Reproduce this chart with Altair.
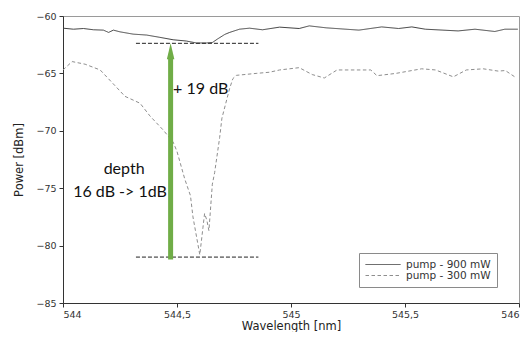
import altair as alt
import pandas as pd

# ---- data ----
series_names = ["pump - 900 mW", "pump - 300 mW"]

solid_nm = [544.0, 544.046, 544.09, 544.134, 544.177, 544.2, 544.221, 544.25, 544.308,
            544.367, 544.425, 544.483, 544.541, 544.585, 544.629, 544.656, 544.678, 544.71,
            544.731, 544.774, 544.818, 544.875, 544.95, 545.036, 545.08, 545.154, 545.298,
            545.398, 545.472, 545.53, 545.589, 545.733, 545.807, 545.894, 545.938, 545.995]
solid_db = [-61.06, -61.15, -61.09, -61.2, -61.23, -61.43, -61.23, -61.38, -61.58,
            -61.66, -61.86, -62.07, -62.18, -62.35, -62.35, -62.3, -62.0, -61.6,
            -61.43, -61.15, -61.06, -61.2, -60.97, -61.09, -60.86, -61.03, -61.23,
            -60.95, -61.09, -60.95, -61.15, -61.3, -61.15, -61.35, -61.15, -61.15]

dash_nm = [544.0, 544.04, 544.097, 544.163, 544.22, 544.272, 544.338, 544.381, 544.438,
           544.483, 544.5, 544.534, 544.559, 544.57, 544.6, 544.614, 544.621, 544.631,
           544.64, 544.655, 544.665, 544.687, 544.697, 544.731, 544.745, 544.76, 544.847,
           544.905, 544.95, 545.036, 545.093, 545.146, 545.202, 545.311, 545.35, 545.377,
           545.46, 545.573, 545.634, 545.712, 545.769, 545.843, 545.909, 545.94, 545.989]
dash_db = [-64.7, -63.97, -64.2, -64.7, -65.9, -67.0, -67.6, -68.7, -69.9,
           -70.98, -71.8, -74.2, -75.65, -77.5, -80.8, -78.4, -77.2, -77.8,
           -78.7, -74.65, -73.65, -70.6, -68.9, -66.3, -65.46, -65.17, -65.0,
           -64.9, -64.7, -64.5, -65.1, -65.4, -64.7, -64.7, -64.7, -65.2,
           -65.0, -64.6, -64.7, -65.3, -64.7, -64.6, -64.8, -64.75, -65.4]

x_ticks = [544, 544.5, 545, 545.5, 546]
y_ticks = [-85, -80, -75, -70, -65, -60]

ref_levels = [-62.38, -81.0]
ref_start = [544.32, 544.32]
ref_end = [544.857, 544.857]

arrow_x = [544.472]
arrow_bottom = [-81.2]
arrow_top = [-63.5]
arrow_head = [-63.07]

label_text = ["+ 19 dB", "depth", "16 dB -> 1dB"]
label_x = [544.483, 544.268, 544.25]
label_y = [-66.81, -73.79, -75.80]
label_align = ["left", "center", "center"]

# ---- tables ----
spectra = pd.concat([
    pd.DataFrame({"nm": solid_nm, "db": solid_db, "series": series_names[0]}),
    pd.DataFrame({"nm": dash_nm, "db": dash_db, "series": series_names[1]}),
])
refs = pd.DataFrame({"x": ref_start, "x2": ref_end, "y": ref_levels})
arrow = pd.DataFrame({"x": arrow_x, "y": arrow_bottom, "y2": arrow_top, "head": arrow_head})
labels = pd.DataFrame({"x": label_x, "y": label_y, "text": label_text, "align": label_align})

x_scale = alt.Scale(domain=[544, 546], nice=False, zero=False)
y_scale = alt.Scale(domain=[-85, -60], nice=False, zero=False)

legend = alt.Legend(
    title=None, orient="none", legendX=296, legendY=237,
    padding=6, strokeColor="#8a8a8a", fillColor="white", cornerRadius=0,
    symbolType="stroke", symbolSize=1225, symbolStrokeWidth=1, clipHeight=11,
    labelFont="DejaVu Sans", labelFontSize=10.5, labelColor="#333", labelOffset=5,
    rowPadding=0,
)

lines = alt.Chart(spectra).mark_line(strokeWidth=1).encode(
    x=alt.X("nm:Q", scale=x_scale, axis=alt.Axis(
        values=x_ticks, title="Wavelength [nm]",
        labelExpr="replace(toString(datum.value), '.', ',')",
        labelPadding=2, titlePadding=2)),
    y=alt.Y("db:Q", scale=y_scale, axis=alt.Axis(
        values=y_ticks, title="Power [dBm]", titlePadding=11)),
    color=alt.Color("series:N", sort=series_names,
                    scale=alt.Scale(domain=series_names, range=["#404040", "#8e8e8e"]),
                    legend=legend),
    strokeDash=alt.StrokeDash("series:N", sort=series_names,
                              scale=alt.Scale(domain=series_names, range=[[1, 0], [3.5, 2.5]]),
                              legend=legend),
)

ref_rules = alt.Chart(refs).mark_rule(color="#222", strokeWidth=1, strokeDash=[4, 2]).encode(
    x=alt.X("x:Q", scale=x_scale), x2="x2:Q", y=alt.Y("y:Q", scale=y_scale))

shaft = alt.Chart(arrow).mark_rule(color="#70AD47", strokeWidth=5).encode(
    x=alt.X("x:Q", scale=x_scale), y=alt.Y("y:Q", scale=y_scale), y2="y2:Q")

head = alt.Chart(arrow).mark_point(
    shape="M0,-1L-0.47,1L0.47,1Z", size=256, filled=True, color="#70AD47",
    opacity=1, strokeWidth=0).encode(
    x=alt.X("x:Q", scale=x_scale), y=alt.Y("head:Q", scale=y_scale))

text_left = alt.Chart(labels[labels["align"] == "left"]).mark_text(
    font="Lato", fontSize=16, color="#111", baseline="alphabetic", align="left").encode(
    x=alt.X("x:Q", scale=x_scale), y=alt.Y("y:Q", scale=y_scale), text="text:N")
text_center = alt.Chart(labels[labels["align"] == "center"]).mark_text(
    font="Lato", fontSize=16, color="#111", baseline="alphabetic", align="center").encode(
    x=alt.X("x:Q", scale=x_scale), y=alt.Y("y:Q", scale=y_scale), text="text:N")

chart = alt.layer(lines, ref_rules, shaft, head, text_left, text_center).properties(
    width=456, height=287,
    padding={"left": 55, "top": 8, "right": 1, "bottom": 29},
    autosize=alt.AutoSizeParams(type="none"),
).configure_view(
    stroke="#9a9a9a", strokeWidth=1
).configure_axis(
    grid=False, domainColor="#333", domainWidth=1, tickColor="#333", tickSize=4,
    labelColor="#333", labelFont="DejaVu Sans", labelFontSize=9.5, labelPadding=3,
    titleFont="DejaVu Sans", titleFontSize=11.5, titleFontWeight="normal", titleColor="#222",
)

chart.save("out.html", embed_options={"renderer": "svg", "actions": False})
